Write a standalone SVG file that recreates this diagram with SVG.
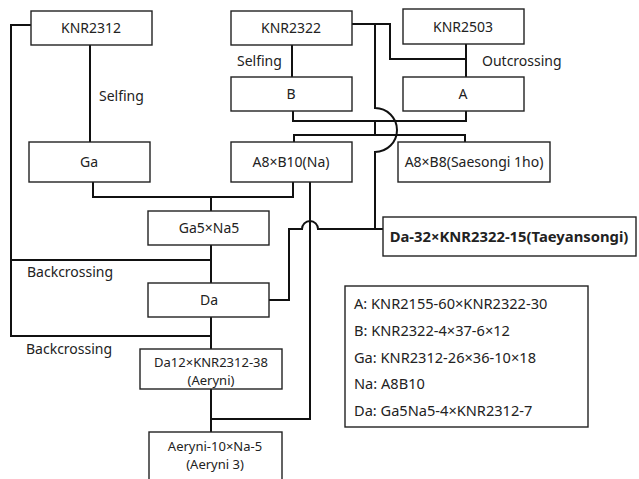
<svg xmlns="http://www.w3.org/2000/svg" width="639" height="479" viewBox="0 0 639 479">
<style>
.box{fill:#fff;stroke:#222;stroke-width:1.4}
.t{font-family:"Noto Sans","Open Sans",sans-serif;font-size:14px;fill:#222}
.c{text-anchor:middle}
.b{font-weight:bold;font-size:14.8px}
.lg{font-size:14.6px}
.m{font-size:13px}
.ln{fill:none;stroke:#111;stroke-width:2}
</style>
<rect width="639" height="479" fill="#fff"/>
<g id="connectors" class="ln">
<path d="M31,25 H11 V336 H211"/>
<path d="M11,260 H211"/>
<path d="M90,45 V142"/>
<path d="M93,182 V197 H293 V182"/>
<path d="M211,197 V211"/>
<path d="M211,245 V283"/>
<path d="M211,317 V349"/>
<path d="M211,389 V432"/>
<path d="M292,45 V77"/>
<path d="M352,24 H390 V59 H466"/>
<path d="M466,44 V77"/>
<path d="M293,111 V121 H466 V111"/>
<path d="M294,142 V135 H465 V142"/>
<path d="M375,24 V108 A22,22 0 0 1 375,152 V229"/>
<path d="M375,121 V135"/>
<path d="M310,182 V419 H211"/>
<path d="M269,300 H289 V229 H302 A8,8 0 0 1 318,229 H383"/>
</g>
<g id="n-knr2312"><rect class="box" x="31" y="11" width="121" height="34"/><text class="t c" x="91" y="33">KNR2312</text></g>
<g id="n-knr2322"><rect class="box" x="231" y="11" width="121" height="34"/><text class="t c" x="291" y="33">KNR2322</text></g>
<g id="n-knr2503"><rect class="box" x="403" y="9" width="121" height="35"/><text class="t c" x="463" y="32">KNR2503</text></g>
<g id="n-b"><rect class="box" x="231" y="77" width="121" height="34"/><text class="t c" x="291" y="99">B</text></g>
<g id="n-a"><rect class="box" x="403" y="77" width="121" height="34"/><text class="t c" x="463" y="99">A</text></g>
<g id="n-ga"><rect class="box" x="29" y="142" width="121" height="40"/><text class="t c" x="89" y="167">Ga</text></g>
<g id="n-na"><rect class="box" x="231" y="142" width="121" height="40"/><text class="t c" x="291" y="167">A8×B10(Na)</text></g>
<g id="n-saesongi"><rect class="box" x="398" y="142" width="152" height="40"/><text class="t c" x="474" y="167">A8×B8(Saesongi 1ho)</text></g>
<g id="n-ga5na5"><rect class="box" x="148" y="211" width="121" height="34"/><text class="t c" x="209" y="233">Ga5×Na5</text></g>
<g id="n-taeyansongi"><rect class="box" x="383" y="217" width="253" height="39"/><text class="t c b" x="509" y="242">Da-32×KNR2322-15(Taeyansongi)</text></g>
<g id="n-da"><rect class="box" x="148" y="283" width="121" height="34"/><text class="t c" x="209" y="305">Da</text></g>
<g id="n-aeryni"><rect class="box" x="140" y="349" width="142" height="40"/><text class="t c m" x="211" y="367">Da12×KNR2312-38</text><text class="t c m" x="211" y="385">(Aeryni)</text></g>
<g id="n-aeryni3"><rect class="box" x="149" y="432" width="133" height="48"/><text class="t c m" x="215" y="451">Aeryni-10×Na-5</text><text class="t c m" x="215" y="469">(Aeryni 3)</text></g>
<g id="labels">
<text class="t" x="99" y="101">Selfing</text>
<text class="t" x="237" y="66">Selfing</text>
<text class="t" x="482" y="66">Outcrossing</text>
<text class="t" x="27" y="277">Backcrossing</text>
<text class="t" x="26" y="354">Backcrossing</text>
</g>
<g id="legend"><rect class="box" x="345" y="286" width="243" height="141"/>
<text class="t lg" x="354" y="309">A: KNR2155-60×KNR2322-30</text>
<text class="t lg" x="354" y="336">B: KNR2322-4×37-6×12</text>
<text class="t lg" x="354" y="363">Ga: KNR2312-26×36-10×18</text>
<text class="t lg" x="354" y="389">Na: A8B10</text>
<text class="t lg" x="354" y="416">Da: Ga5Na5-4×KNR2312-7</text>
</g>
</svg>
